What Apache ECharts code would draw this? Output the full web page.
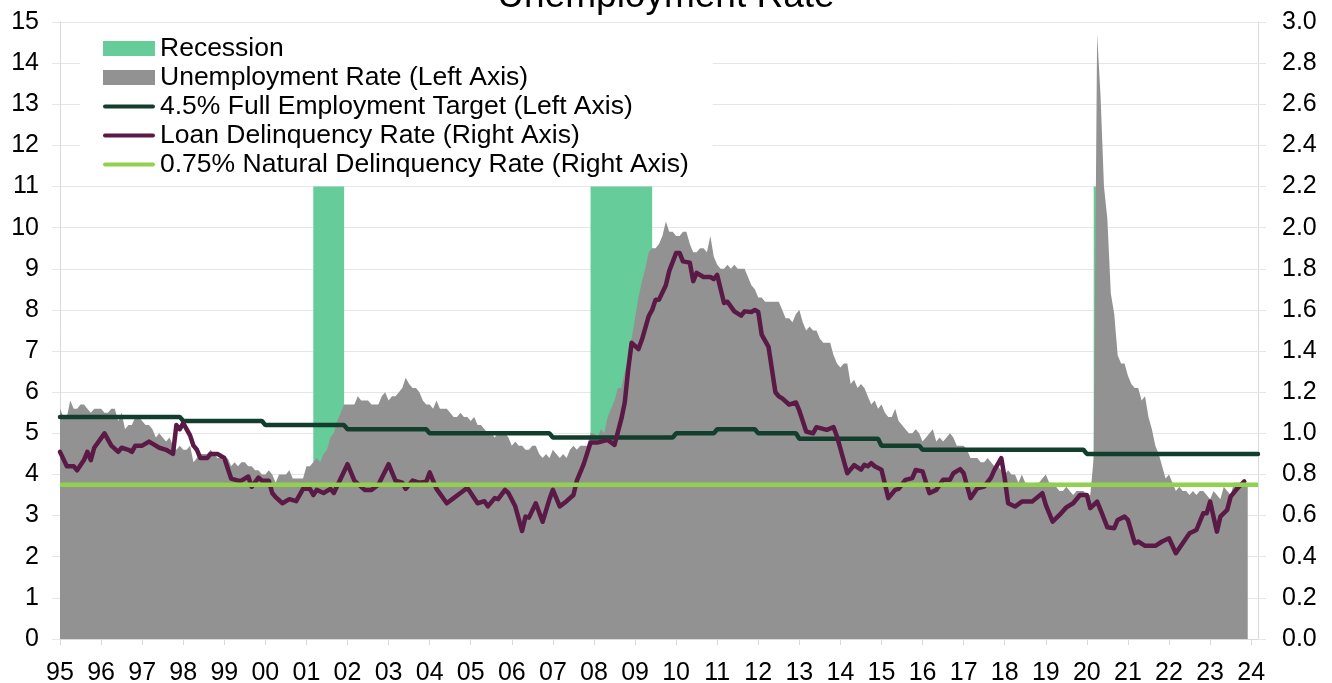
<!DOCTYPE html>
<html>
<head>
<meta charset="utf-8">
<title>Unemployment Rate</title>
<script src="https://cdn.jsdelivr.net/npm/echarts@6/dist/echarts.min.js"></script>
<style>
  html, body { margin: 0; padding: 0; background: #fff; }
  #chart { width: 1332px; height: 683px; }
</style>
</head>
<body>
<div id="chart"></div>
<script>
// Unemployment rate (left) vs loan delinquency rate (right), monthly 1995-2023

const FONT = '"Liberation Sans", Arial, sans-serif';
// thick round-capped line for the legend (bbox padded to the full icon box)
const LINE_ICON = 'path://M0,0 M52,15 M2,5.5 L50,5.5 A2,2 0 0 1 50,9.5 L2,9.5 A2,2 0 0 1 2,5.5 Z';

// monthly categories Jan 1995 .. Mar 2024
const months = [];
for (let y = 1995; y <= 2024; y++) {
  for (let m = 1; m <= 12; m++) {
    if (y === 2024 && m > 3) break;
    months.push(y + '-' + (m < 10 ? '0' + m : m));
  }
}

// unemployment rate, %, Jan 1995 .. Dec 2023 (one row per year)
const unemployment = [
  5.6, 5.4, 5.4, 5.8, 5.6, 5.6, 5.7, 5.7, 5.6, 5.5, 5.6, 5.6,
  5.6, 5.5, 5.5, 5.6, 5.6, 5.3, 5.5, 5.1, 5.2, 5.2, 5.4, 5.4,
  5.3, 5.2, 5.2, 5.1, 4.9, 5.0, 4.9, 4.8, 4.9, 4.7, 4.6, 4.7,
  4.6, 4.6, 4.7, 4.3, 4.4, 4.5, 4.5, 4.5, 4.6, 4.5, 4.4, 4.4,
  4.3, 4.4, 4.2, 4.3, 4.2, 4.3, 4.3, 4.2, 4.2, 4.1, 4.1, 4.0,
  4.0, 4.1, 4.0, 3.8, 4.0, 4.0, 4.0, 4.1, 3.9, 3.9, 3.9, 3.9,
  4.2, 4.2, 4.3, 4.4, 4.3, 4.5, 4.6, 4.9, 5.0, 5.3, 5.5, 5.7,
  5.7, 5.7, 5.7, 5.9, 5.8, 5.8, 5.8, 5.7, 5.7, 5.7, 5.9, 6.0,
  5.8, 5.9, 5.9, 6.0, 6.1, 6.35, 6.2, 6.1, 6.1, 6.0, 5.8, 5.7,
  5.7, 5.6, 5.8, 5.6, 5.6, 5.6, 5.5, 5.4, 5.4, 5.5, 5.4, 5.4,
  5.3, 5.4, 5.2, 5.2, 5.1, 5.0, 5.0, 4.9, 5.0, 5.0, 5.0, 4.9,
  4.7, 4.8, 4.7, 4.7, 4.6, 4.6, 4.7, 4.7, 4.5, 4.4, 4.5, 4.4,
  4.6, 4.5, 4.4, 4.5, 4.4, 4.6, 4.7, 4.6, 4.7, 4.7, 4.7, 5.0,
  5.0, 4.9, 5.1, 5.0, 5.4, 5.6, 5.8, 6.1, 6.1, 6.5, 6.8, 7.3,
  7.8, 8.3, 8.7, 9.0, 9.4, 9.5, 9.5, 9.6, 9.8, 10.15, 9.9, 9.9,
  9.8, 9.8, 9.9, 9.9, 9.6, 9.4, 9.4, 9.5, 9.5, 9.4, 9.8, 9.3,
  9.1, 9.0, 9.0, 9.1, 9.0, 9.1, 9.0, 9.0, 9.0, 8.8, 8.6, 8.5,
  8.3, 8.3, 8.2, 8.2, 8.2, 8.2, 8.2, 8.0, 7.8, 7.8, 7.7, 7.9,
  8.0, 7.7, 7.5, 7.6, 7.5, 7.5, 7.3, 7.2, 7.2, 7.2, 6.9, 6.7,
  6.6, 6.7, 6.7, 6.2, 6.3, 6.1, 6.2, 6.1, 5.9, 5.7, 5.8, 5.6,
  5.7, 5.5, 5.4, 5.4, 5.6, 5.3, 5.2, 5.1, 5.0, 5.0, 5.1, 5.0,
  4.8, 4.9, 5.0, 5.1, 4.8, 4.9, 4.8, 4.9, 5.0, 4.9, 4.7, 4.7,
  4.7, 4.6, 4.4, 4.4, 4.4, 4.3, 4.3, 4.4, 4.3, 4.2, 4.2, 4.1,
  4.0, 4.1, 4.0, 4.0, 3.8, 4.0, 3.8, 3.8, 3.7, 3.8, 3.8, 3.9,
  4.0, 3.8, 3.8, 3.7, 3.6, 3.6, 3.7, 3.6, 3.5, 3.6, 3.6, 3.6,
  3.5, 3.5, 4.4, 14.7, 13.2, 11.0, 10.2, 8.4, 7.9, 6.9, 6.7, 6.7,
  6.4, 6.2, 6.1, 6.1, 5.8, 5.9, 5.4, 5.1, 4.7, 4.5, 4.2, 3.9,
  4.0, 3.8, 3.6, 3.7, 3.6, 3.6, 3.5, 3.6, 3.5, 3.6, 3.6, 3.5,
  3.4, 3.6, 3.5, 3.4, 3.7, 3.6, 3.5, 3.8, 3.8, 3.8, 3.7, 3.7
];

// full employment target (left axis): level changes at these months
const targetMonths = [
  '1995-01', '1997-12', '1998-01', '1999-12', '2000-01', '2001-12', '2002-01', '2003-12',
  '2004-01', '2006-12', '2007-01', '2009-12', '2010-01', '2010-12', '2011-01', '2011-12',
  '2012-01', '2012-12', '2013-01', '2014-12', '2015-01', '2015-12', '2016-01', '2019-12',
  '2020-01', '2024-03'
];
const targetValues = [
  5.4, 5.4, 5.3, 5.3, 5.2, 5.2, 5.1, 5.1,
  5.0, 5.0, 4.9, 4.9, 5.0, 5.0, 5.1, 5.1,
  5.0, 5.0, 4.87, 4.87, 4.7, 4.7, 4.6, 4.6,
  4.5, 4.5
];

// loan delinquency rate, % (right axis)
const delinqMonths = [
  '1995-01', '1995-03', '1995-05', '1995-06', '1995-08', '1995-09', '1995-10', '1995-11',
  '1996-02', '1996-04', '1996-06', '1996-07', '1996-09', '1996-10', '1996-11',
  '1997-01', '1997-03', '1997-04', '1997-06', '1997-08', '1997-10', '1997-11', '1997-12',
  '1998-01', '1998-03', '1998-04', '1998-05', '1998-06', '1998-08', '1998-09', '1998-11',
  '1999-01', '1999-03', '1999-05', '1999-06', '1999-08', '1999-09', '1999-11', '1999-12',
  '2000-02', '2000-03', '2000-04', '2000-06', '2000-08', '2000-10', '2000-12',
  '2001-02', '2001-03', '2001-04', '2001-06', '2001-08', '2001-09',
  '2002-01', '2002-03', '2002-06', '2002-08', '2002-10',
  '2003-01', '2003-03', '2003-05', '2003-06', '2003-08', '2003-10', '2003-12',
  '2004-01', '2004-03', '2004-06', '2004-08', '2004-10', '2004-12',
  '2005-03', '2005-05', '2005-06', '2005-08', '2005-09', '2005-11', '2005-12',
  '2006-02', '2006-04', '2006-05', '2006-06', '2006-08', '2006-10', '2006-12',
  '2007-01', '2007-03', '2007-05', '2007-07', '2007-08', '2007-10', '2007-12',
  '2008-02', '2008-05', '2008-07', '2008-09', '2008-10', '2008-11', '2008-12',
  '2009-02', '2009-03', '2009-05', '2009-06', '2009-07', '2009-08', '2009-10', '2009-11',
  '2010-01', '2010-02', '2010-03', '2010-05', '2010-06', '2010-07', '2010-09', '2010-11', '2010-12',
  '2011-01', '2011-03', '2011-04', '2011-06', '2011-08', '2011-09', '2011-11', '2011-12',
  '2012-01', '2012-02', '2012-04', '2012-06', '2012-07', '2012-08', '2012-10', '2012-12',
  '2013-01', '2013-03', '2013-05', '2013-06', '2013-09', '2013-11', '2013-12',
  '2014-03', '2014-05', '2014-07', '2014-08', '2014-09', '2014-10', '2014-11',
  '2015-01', '2015-03', '2015-05', '2015-06', '2015-08', '2015-10', '2015-11',
  '2016-01', '2016-03', '2016-05', '2016-07', '2016-09', '2016-10', '2016-12',
  '2017-01', '2017-03', '2017-05', '2017-07', '2017-09', '2017-10', '2017-12',
  '2018-01', '2018-02', '2018-04', '2018-06', '2018-09', '2018-12',
  '2019-01', '2019-03', '2019-05', '2019-07', '2019-09', '2019-11',
  '2020-01', '2020-02', '2020-04', '2020-05', '2020-07', '2020-09', '2020-10', '2020-12',
  '2021-01', '2021-03', '2021-04', '2021-06', '2021-09', '2021-11',
  '2022-01', '2022-03', '2022-05', '2022-07', '2022-09', '2022-10', '2022-11', '2022-12',
  '2023-01', '2023-03', '2023-04', '2023-06', '2023-07', '2023-09', '2023-11'
];
const delinqValues = [
  0.91, 0.84, 0.84, 0.82, 0.87, 0.91, 0.87, 0.93,
  1.00, 0.94, 0.91, 0.93, 0.92, 0.91, 0.94,
  0.94, 0.96, 0.95, 0.93, 0.92, 0.90, 1.04, 1.02,
  1.05, 0.99, 0.94, 0.92, 0.88, 0.88, 0.90, 0.90,
  0.88, 0.78, 0.77, 0.77, 0.79, 0.74, 0.785, 0.77,
  0.77, 0.71, 0.69, 0.66, 0.68, 0.67, 0.73,
  0.73, 0.70, 0.725, 0.71, 0.73, 0.71,
  0.85, 0.77, 0.725, 0.725, 0.75,
  0.85, 0.77, 0.76, 0.73, 0.77, 0.76, 0.765,
  0.81, 0.73, 0.66, 0.685, 0.71, 0.735,
  0.66, 0.67, 0.645, 0.685, 0.68, 0.725, 0.71,
  0.645, 0.525, 0.595, 0.59, 0.66, 0.57, 0.68,
  0.725, 0.645, 0.67, 0.70, 0.77, 0.85, 0.955,
  0.955, 0.968, 0.944, 1.07, 1.15, 1.31, 1.44,
  1.41, 1.455, 1.57, 1.60, 1.65, 1.65, 1.72, 1.79,
  1.877, 1.877, 1.836, 1.83, 1.74, 1.78, 1.76, 1.76, 1.75,
  1.77, 1.634, 1.64, 1.593, 1.572, 1.593, 1.59, 1.60,
  1.59, 1.48, 1.42, 1.20, 1.18, 1.17, 1.14, 1.15,
  1.11, 1.009, 1.00, 1.03, 1.017, 1.03, 0.985,
  0.806, 0.845, 0.823, 0.847, 0.84, 0.855, 0.84,
  0.823, 0.685, 0.725, 0.73, 0.774, 0.782, 0.822,
  0.815, 0.709, 0.725, 0.774, 0.774, 0.806, 0.826,
  0.806, 0.685, 0.733, 0.741, 0.785, 0.822, 0.879,
  0.782, 0.66, 0.644, 0.668, 0.668, 0.709,
  0.652, 0.571, 0.603, 0.64, 0.66, 0.70,
  0.70, 0.636, 0.668, 0.628, 0.543, 0.539, 0.579, 0.595,
  0.579, 0.466, 0.474, 0.453, 0.453, 0.474,
  0.49, 0.417, 0.466, 0.514, 0.53, 0.571, 0.611, 0.611,
  0.668, 0.522, 0.595, 0.628, 0.692, 0.733, 0.766
];

// natural delinquency rate (right axis)
const naturalRate = 0.75;

// recessions: [first month, last month], bars drawn up to 11 on left axis
const recessions = [['2001-03', '2001-12'], ['2007-12', '2009-06'], ['2020-03', '2020-04']];
const recessionTop = 11;

const names = [
  'Recession',
  'Unemployment Rate (Left Axis)',
  '4.5% Full Employment Target (Left Axis)',
  'Loan Delinquency Rate (Right Axis)',
  '0.75% Natural Delinquency Rate (Right Axis)'
];

const chart = echarts.init(document.getElementById('chart'));

const isJan = (i, v) => v.slice(5) === '01';

chart.setOption({
  animation: false,
  textStyle: { fontFamily: FONT },
  title: {
    text: 'Unemployment Rate',
    left: 'center',
    top: -27,
    textStyle: { fontFamily: FONT, fontSize: 37, fontWeight: 'normal', color: '#000' }
  },
  legend: {
    orient: 'vertical',
    left: 80,
    top: 31,
    padding: [4, 24, 3, 23],
    backgroundColor: '#fff',
    itemWidth: 52,
    itemHeight: 15,
    itemGap: 2,
    textStyle: { fontFamily: FONT, fontSize: 26.5, color: '#000' },
    data: [
      { name: names[0], icon: 'rect' },
      { name: names[1], icon: 'rect' },
      { name: names[2], icon: LINE_ICON },
      { name: names[3], icon: LINE_ICON },
      { name: names[4], icon: LINE_ICON }
    ]
  },
  grid: { left: 60, right: 74, top: 22, bottom: 44, outerBoundsMode: 'none' },
  xAxis: {
    type: 'category',
    data: months,
    boundaryGap: false,
    axisLine: { lineStyle: { color: '#d9d9d9', width: 1 } },
    axisTick: { interval: isJan, length: 6, lineStyle: { color: '#d9d9d9' } },
    axisLabel: {
      interval: isJan,
      formatter: v => v.slice(2, 4),
      fontFamily: FONT, fontSize: 25, color: '#000', margin: 22
    },
    splitLine: { show: false }
  },
  yAxis: [
    {
      type: 'value', min: 0, max: 15, interval: 1,
      axisLine: { show: true, lineStyle: { color: '#d9d9d9' } },
      axisTick: { show: true, length: 8, lineStyle: { color: '#e6e6e6' } },
      axisLabel: { fontFamily: FONT, fontSize: 25, color: '#000', margin: 21 },
      splitLine: { lineStyle: { color: '#e6e6e6', width: 1 } }
    },
    {
      type: 'value', min: 0, max: 3, interval: 0.2,
      axisLine: { show: true, lineStyle: { color: '#d9d9d9' } },
      axisTick: { show: true, length: 8, lineStyle: { color: '#e6e6e6' } },
      axisLabel: { fontFamily: FONT, fontSize: 25, color: '#000', margin: 24, formatter: v => v.toFixed(1) },
      splitLine: { show: false }
    }
  ],
  series: [
    {
      name: names[0],
      type: 'line',
      data: [],
      itemStyle: { color: '#66cc99' },
      lineStyle: { color: '#66cc99' },
      markArea: {
        silent: true,
        itemStyle: { color: '#66cc99', opacity: 1 },
        label: { show: false },
        data: recessions.map(r => [{ xAxis: r[0], yAxis: 0 }, { xAxis: r[1], yAxis: recessionTop }])
      }
    },
    {
      name: names[1],
      type: 'line',
      data: unemployment,
      symbol: 'none',
      z: 2,
      itemStyle: { color: '#929292' },
      lineStyle: { width: 0, color: '#929292' },
      areaStyle: { color: '#929292', opacity: 1 }
    },
    {
      name: names[2],
      type: 'line',
      data: targetMonths.map((m, i) => [m, targetValues[i]]),
      symbol: 'none',
      z: 3,
      itemStyle: { color: '#123f2d' },
      lineStyle: { width: 4.5, color: '#123f2d', cap: 'round' }
    },
    {
      name: names[3],
      type: 'line',
      yAxisIndex: 1,
      data: delinqMonths.map((m, i) => [m, delinqValues[i]]),
      symbol: 'none',
      z: 4,
      itemStyle: { color: '#5b1a46' },
      lineStyle: { width: 4.5, color: '#5b1a46', cap: 'round', join: 'round' }
    },
    {
      name: names[4],
      type: 'line',
      yAxisIndex: 1,
      data: [[months[0], naturalRate], [months[months.length - 1], naturalRate]],
      symbol: 'none',
      z: 5,
      itemStyle: { color: '#92d050' },
      lineStyle: { width: 4.5, color: '#92d050' }
    }
  ]
});
</script>
</body>
</html>
